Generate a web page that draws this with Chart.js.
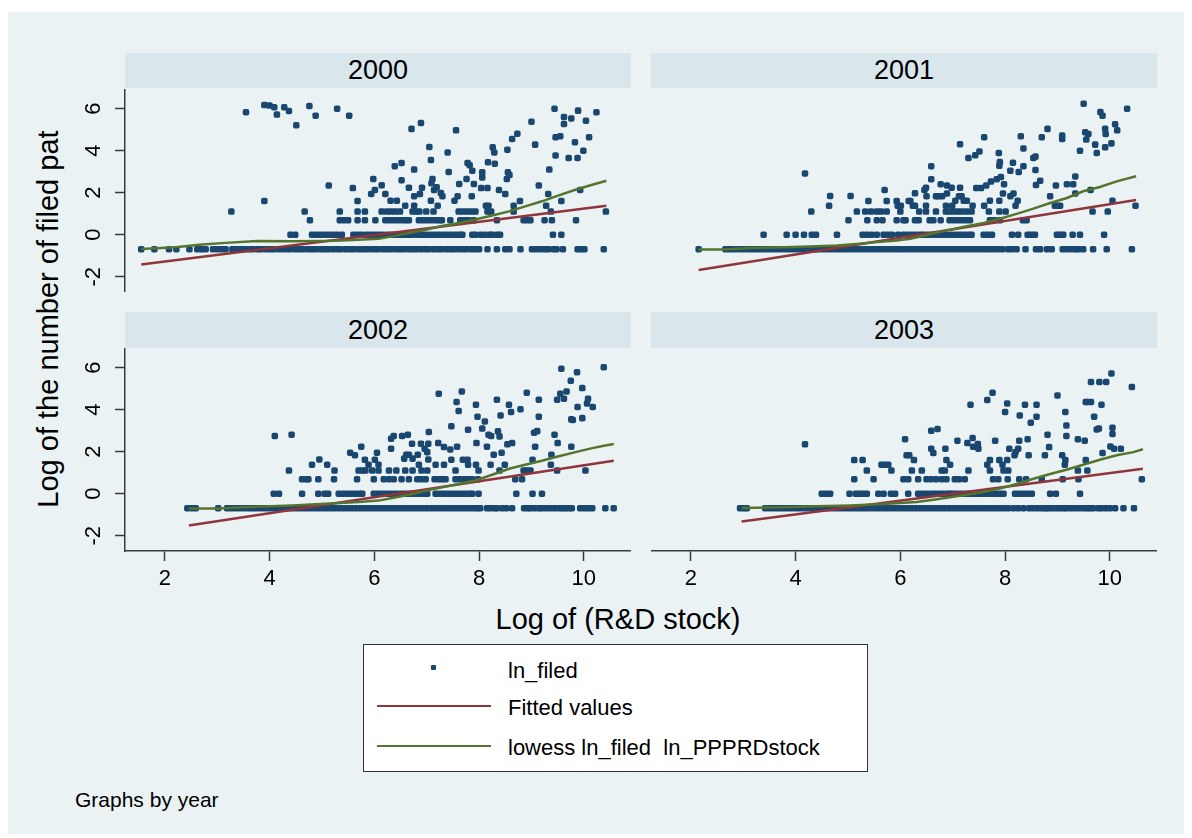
<!DOCTYPE html>
<html>
<head>
<meta charset="utf-8">
<title>ln_filed against ln_PPPRDstock, by year</title>
<script src="https://cdn.jsdelivr.net/npm/chart.js@4.4.1/dist/chart.umd.min.js"></script>
<style>
  body { margin: 0; width: 1192px; height: 838px; background: #fff; position: relative; overflow: hidden;
         font-family: "Liberation Sans", Arial, sans-serif; color: #000; }
  #bg { position: absolute; left: 8px; top: 12px; width: 1176px; height: 822px; background: #eaf2f3; }
  .strip { position: absolute; width: 506px; background: #d9e6eb; text-align: center; font-size: 27px; }
  .row1 { top: 53px; height: 35px; line-height: 35px; }
  .row2 { top: 312px; height: 36px; line-height: 36px; }
  canvas { position: absolute; }
  #ytitle { position: absolute; left: 48px; top: 319px; transform: translate(-50%, -50%) rotate(-90deg);
            font-size: 29px; white-space: nowrap; }
  #xtitle { position: absolute; left: 618px; top: 619px; transform: translate(-50%, -50%);
            font-size: 29px; white-space: nowrap; }
  #note { position: absolute; left: 75px; top: 800px; transform: translateY(-50%); font-size: 21px; }
  #legend { position: absolute; left: 363px; top: 644px; width: 505px; height: 128px; box-sizing: border-box;
            background: #fff; border: 1.5px solid #333; }
  .lg-mark { position: absolute; left: 67px; top: 20px; width: 5px; height: 5px; border-radius: 1px; background: #1a476f; }
  .lg-line { position: absolute; left: 13px; width: 114px; height: 2px; }
  .lg-text { position: absolute; left: 144px; font-size: 22px; transform: translateY(-50%); white-space: pre; }
</style>
</head>
<body>
<div id="bg"></div>

<div class="strip row1" style="left:125px">2000</div>
<div class="strip row1" style="left:651px">2001</div>
<div class="strip row2" style="left:125px">2002</div>
<div class="strip row2" style="left:651px">2003</div>

<canvas id="c2000" width="551" height="203" style="left:80px;top:89px"></canvas>
<canvas id="c2001" width="506" height="203" style="left:651px;top:89px"></canvas>
<canvas id="c2002" width="551" height="253" style="left:80px;top:348px"></canvas>
<canvas id="c2003" width="506" height="253" style="left:651px;top:348px"></canvas>

<div id="ytitle">Log of the number of filed pat</div>
<div id="xtitle">Log of (R&amp;D stock)</div>

<div id="legend">
  <div class="lg-mark"></div>
  <div class="lg-text" style="top:26px">ln_filed</div>
  <div class="lg-line" style="top:60px;background:#90353b"></div>
  <div class="lg-text" style="top:63px">Fitted values</div>
  <div class="lg-line" style="top:100px;background:#55752f"></div>
  <div class="lg-text" style="top:103px">lowess ln_filed  ln_PPPRDstock</div>
</div>

<div id="note">Graphs by year</div>

<script>
// axis setup shared by all four panels
const xTicks = [2, 4, 6, 8, 10];
const yTicks = [-2, 0, 2, 4, 6];
const xRange = [1.24, 10.9];
const yRange = [-2.73, 6.94];

// ln_filed takes a few discrete low values; firms at each level are listed by ln_PPPRDstock
const yLevels = [-0.69, 0, 0.69, 1.1];

// ---- 2000 ----
const band2000 = [1.55, 1.80, 2.08, 2.22, 2.47, 2.62, 2.70, 2.78, 2.92, 3.0, 3.08, 3.16,
  3.29, 3.37, 3.45, 3.52, 3.61, 3.68, 3.77, 3.84, 3.93, 4.01, 4.08, 4.17, 4.25, 4.33, 4.40, 4.49,
  4.57, 4.64, 4.73, 4.81, 4.88, 4.97, 5.05, 5.12, 5.21, 5.29, 5.36, 5.45, 5.53, 5.60, 5.69, 5.77,
  5.84, 5.93, 6.01, 6.08, 6.17, 6.25, 6.32, 6.41, 6.49, 6.56, 6.65, 6.73, 6.80, 6.89, 6.97, 7.04,
  7.13, 7.21, 7.28, 7.37, 7.45, 7.52, 7.61, 7.69, 7.76, 7.85, 7.93, 8.0, 8.16, 8.34, 8.50, 8.58,
  8.79, 9.01, 9.09, 9.17, 9.25, 9.32, 9.42, 9.48, 9.60, 9.88, 9.95, 10.01, 10.38];
const zero2000 = [4.40, 4.49, 4.81, 4.89, 4.97, 5.05, 5.13, 5.21, 5.29, 5.38, 5.60, 5.68, 5.76,
  5.85, 5.93, 6.01, 6.09, 6.17, 6.26, 6.34, 6.42, 6.50, 6.58, 6.66, 6.74, 6.83, 6.91, 6.99, 7.07,
  7.15, 7.23, 7.31, 7.39, 7.47, 7.55, 7.63, 7.68, 7.87, 7.93, 8.03, 8.11, 8.20, 8.25, 8.34, 8.40,
  9.41, 9.57];
const two2000 = [4.77, 5.34, 5.42, 5.50, 5.68, 5.82, 6.02, 6.21, 6.29, 6.37, 6.45, 6.53, 6.60,
  6.66, 6.85, 6.93, 7.01, 7.09, 7.17, 7.24, 7.29, 7.45, 7.64, 7.72, 7.80, 7.90, 8.34, 8.85, 8.92,
  8.98, 9.25, 9.39, 9.85];
const three2000 = [3.27, 4.67, 5.34, 5.68, 5.82, 6.14, 6.24, 6.32, 6.40, 6.49, 6.73, 6.80, 6.86,
  6.99, 7.13, 7.61, 7.69, 7.77, 7.85, 7.93, 8.16, 8.23, 8.66, 9.37, 10.42];
const upper2000 = [[3.55, 5.83], [3.90, 6.18], [4.00, 6.15], [4.09, 6.07], [4.14, 5.72], [4.28, 6.07],
  [4.37, 5.89], [4.51, 5.21], [4.76, 6.13], [4.88, 5.67], [5.29, 6.00], [5.52, 5.67], [3.90, 1.61],
  [5.13, 2.34], [5.59, 2.22], [5.68, 1.61], [5.94, 1.94], [5.98, 2.65], [6.01, 2.13], [6.14, 2.35],
  [6.21, 1.94], [6.31, 1.62], [6.39, 3.26], [6.43, 1.62], [6.52, 3.42], [6.52, 2.59], [6.59, 1.38],
  [6.66, 2.24], [6.71, 5.04], [6.76, 3.10], [6.76, 1.83], [6.76, 1.38], [6.89, 5.32], [6.87, 1.94],
  [6.91, 2.24], [7.05, 4.18], [7.08, 3.56], [7.09, 2.45], [7.11, 2.65], [7.14, 2.13], [7.19, 2.26],
  [7.21, 1.38], [7.08, 1.62], [7.27, 1.99], [7.30, 1.83], [7.40, 3.92], [7.42, 2.99], [7.53, 1.62],
  [7.56, 4.97], [7.59, 1.83], [7.62, 2.42], [7.76, 2.65], [7.78, 3.42], [7.82, 3.31], [7.87, 3.05],
  [7.86, 1.83], [7.90, 2.42], [8.04, 2.22], [8.06, 2.97], [8.06, 2.73], [8.16, 2.22], [8.13, 1.38],
  [8.18, 1.38], [8.17, 3.45], [8.26, 4.16], [8.29, 3.92], [8.30, 3.38], [8.38, 2.13], [8.50, 1.94],
  [8.53, 2.65], [8.55, 2.97], [8.58, 2.84], [8.54, 4.05], [8.63, 4.56], [8.66, 1.38], [8.73, 4.81],
  [8.78, 1.61], [9.00, 5.38], [9.07, 4.29], [9.14, 2.34], [9.28, 1.38], [9.32, 1.94], [9.34, 3.10],
  [9.44, 6.00], [9.46, 4.64], [9.46, 3.77], [9.55, 4.69], [9.57, 1.61], [9.62, 5.61], [9.62, 5.27],
  [9.71, 3.65], [9.76, 5.54], [9.83, 4.40], [9.88, 3.65], [9.89, 5.91], [9.93, 2.13], [9.99, 4.00],
  [10.04, 5.43], [10.10, 4.64], [10.24, 5.83]];
const fitX2000 = [1.55, 10.43];
const fitY2000 = [-1.42, 1.38];
const lowX2000 = [1.55, 2.20, 2.71, 3.16, 3.76, 4.43, 5.07, 5.38, 5.70, 6.08, 6.34, 6.66, 6.98, 7.29,
  7.61, 7.93, 8.25, 8.57, 8.88, 9.20, 9.52, 9.84, 10.16, 10.43];
const lowY2000 = [-0.68, -0.60, -0.47, -0.39, -0.30, -0.31, -0.30, -0.28, -0.24, -0.19, -0.08, 0.08,
  0.24, 0.41, 0.56, 0.72, 0.91, 1.11, 1.35, 1.59, 1.87, 2.14, 2.38, 2.57];

// ---- 2001 ----
const band2001 = [2.15, 2.66, 2.74, 2.82, 2.91, 2.99, 3.07, 3.15, 3.23, 3.31, 3.39, 3.47, 3.55, 3.63,
  3.71, 3.79, 3.87, 3.95, 4.03, 4.11, 4.19, 4.27, 4.35, 4.43, 4.51, 4.59, 4.67, 4.75, 4.83, 4.91,
  4.99, 5.07, 5.15, 5.23, 5.31, 5.39, 5.47, 5.55, 5.63, 5.71, 5.79, 5.87, 5.95, 6.03, 6.11, 6.19,
  6.27, 6.35, 6.43, 6.51, 6.59, 6.67, 6.75, 6.83, 6.91, 6.99, 7.07, 7.15, 7.23, 7.31, 7.39, 7.47,
  7.55, 7.63, 7.71, 7.79, 7.87, 7.95, 8.06, 8.13, 8.22, 8.39, 8.59, 8.67, 8.80, 8.89, 9.10, 9.18,
  9.26, 9.34, 9.40, 9.49, 9.68, 9.94, 10.42];
const zero2001 = [3.39, 3.83, 4.00, 4.16, 4.31, 4.39, 4.79, 5.28, 5.36, 5.45, 5.55, 5.68, 5.76, 5.84,
  5.96, 6.06, 6.14, 6.22, 6.30, 6.38, 6.44, 6.52, 6.61, 6.70, 6.79, 6.88, 6.97, 7.06, 7.14, 7.22,
  7.30, 7.36, 7.59, 7.67, 7.75, 8.13, 8.25, 8.43, 8.50, 8.57, 8.99, 9.05, 9.11, 9.29, 9.43, 9.89];
const two2001 = [5.01, 5.37, 5.55, 5.66, 5.93, 6.06, 6.10, 6.28, 6.35, 6.56, 6.63, 6.77, 6.94, 7.02,
  7.10, 7.18, 7.26, 7.33, 7.71, 7.80, 7.90, 8.34, 8.41];
const three2001 = [4.30, 5.17, 5.33, 5.44, 5.55, 5.63, 5.74, 6.00, 6.36, 6.49, 6.68, 6.87, 6.94, 7.02,
  7.10, 7.18, 7.27, 7.36, 7.69, 7.89, 8.01, 9.67, 9.96];
const upper2001 = [[4.18, 2.92], [4.66, 1.84], [4.64, 1.38], [5.05, 1.84], [5.39, 1.61], [5.70, 2.13],
  [5.74, 1.61], [5.93, 1.61], [5.95, 1.38], [6.01, 1.38], [6.16, 1.61], [6.19, 1.61], [6.24, 1.38],
  [6.28, 1.38], [6.28, 1.97], [6.46, 2.13], [6.49, 2.24], [6.50, 1.83], [6.49, 1.38], [6.59, 3.26],
  [6.59, 2.64], [6.68, 1.83], [6.73, 1.83], [6.77, 2.40], [6.80, 1.83], [6.87, 1.38], [6.89, 2.34],
  [6.89, 1.96], [6.98, 2.24], [6.99, 1.38], [7.05, 1.62], [7.14, 2.24], [7.14, 4.31], [7.12, 1.83],
  [7.17, 1.83], [7.21, 1.62], [7.27, 1.62], [7.30, 3.65], [7.38, 1.38], [7.43, 3.78], [7.51, 3.96],
  [7.45, 2.22], [7.54, 2.22], [7.60, 4.64], [7.60, 1.38], [7.64, 2.34], [7.71, 1.62], [7.73, 2.53],
  [7.84, 2.64], [7.88, 3.89], [7.89, 3.29], [7.90, 3.46], [7.89, 1.62], [7.92, 2.75], [7.96, 1.96],
  [7.98, 2.40], [8.10, 3.05], [8.10, 1.83], [8.15, 3.43], [8.16, 1.96], [8.20, 1.38], [8.24, 1.62],
  [8.26, 2.99], [8.30, 4.69], [8.35, 4.11], [8.35, 3.26], [8.54, 3.65], [8.58, 3.72], [8.58, 3.08],
  [8.59, 2.37], [8.67, 2.57], [8.70, 4.64], [8.81, 5.04], [8.86, 1.83], [8.97, 2.34], [8.99, 1.38],
  [8.95, 1.38], [9.05, 1.38], [9.09, 4.72], [9.09, 4.56], [9.18, 2.40], [9.30, 2.40], [9.34, 2.77],
  [9.34, 1.96], [9.43, 4.00], [9.50, 6.24], [9.53, 4.88], [9.55, 4.53], [9.59, 4.80], [9.63, 2.13],
  [9.72, 4.29], [9.75, 3.89], [9.82, 5.84], [9.86, 5.67], [9.91, 4.16], [9.91, 5.04], [9.92, 4.80],
  [10.03, 4.35], [10.05, 1.62], [10.10, 5.26], [10.14, 4.97], [10.33, 6.00], [10.49, 1.38]];
const fitX2001 = [2.15, 10.50];
const fitY2001 = [-1.68, 1.65];
const lowX2001 = [2.15, 2.62, 3.13, 3.77, 4.41, 4.79, 5.17, 5.55, 5.93, 6.19, 6.44, 6.70, 6.95, 7.27,
  7.59, 7.90, 8.22, 8.54, 8.86, 9.18, 9.49, 9.81, 10.13, 10.50];
const lowY2001 = [-0.70, -0.70, -0.63, -0.60, -0.55, -0.51, -0.44, -0.35, -0.28, -0.19, -0.05, 0.10,
  0.24, 0.40, 0.56, 0.76, 0.99, 1.24, 1.51, 1.75, 2.07, 2.27, 2.54, 2.78];

// ---- 2002 ----
const band2002 = [2.43, 2.51, 2.59, 3.02, 3.19, 3.27, 3.35, 3.43, 3.51, 3.59, 3.66, 3.73, 3.81, 3.89,
  3.97, 4.05, 4.13, 4.21, 4.29, 4.37, 4.45, 4.53, 4.61, 4.69, 4.77, 4.85, 4.93, 5.01, 5.09, 5.17,
  5.25, 5.33, 5.41, 5.49, 5.57, 5.65, 5.73, 5.81, 5.89, 5.97, 6.05, 6.13, 6.21, 6.29, 6.37, 6.45,
  6.53, 6.61, 6.69, 6.77, 6.85, 6.93, 7.01, 7.09, 7.17, 7.25, 7.33, 7.41, 7.49, 7.57, 7.65, 7.73,
  7.81, 7.89, 7.96, 8.02, 8.15, 8.22, 8.30, 8.34, 8.44, 8.52, 8.63, 8.86, 8.93, 8.98, 9.06, 9.14,
  9.20, 9.28, 9.36, 9.44, 9.52, 9.59, 9.65, 9.71, 9.77, 9.93, 10.01, 10.09, 10.16, 10.41, 10.57];
const zero2002 = [4.08, 4.18, 4.62, 4.93, 5.05, 5.12, 5.32, 5.40, 5.48, 5.56, 5.64, 5.72, 5.77, 5.99,
  6.07, 6.15, 6.23, 6.31, 6.39, 6.47, 6.55, 6.63, 6.71, 6.79, 6.87, 6.95, 7.01, 7.17, 7.25, 7.33,
  7.41, 7.49, 7.57, 7.65, 7.73, 7.81, 7.87, 7.99, 8.71, 9.02, 9.20];
const two2002 = [4.62, 4.70, 4.74, 4.93, 5.23, 5.67, 5.99, 6.18, 6.28, 6.37, 6.52, 6.66, 6.82, 6.90,
  6.98, 7.15, 7.23, 7.30, 7.36, 7.55, 7.63, 7.71, 7.79, 7.87, 7.98, 8.69, 8.82];
const three2002 = [4.37, 5.24, 5.70, 5.77, 5.83, 5.96, 6.08, 6.28, 6.42, 6.59, 6.73, 6.90, 7.01, 7.55,
  7.99, 8.39, 8.85, 8.92, 8.98, 9.49, 10.03];
const upper2002 = [[4.10, 2.75], [4.42, 2.81], [4.81, 1.38], [4.95, 1.63], [5.10, 1.38], [5.54, 1.95],
  [5.63, 1.83], [5.75, 2.24], [5.82, 1.62], [5.89, 1.38], [6.01, 1.62], [6.05, 1.95], [6.08, 1.38],
  [6.32, 2.62], [6.32, 2.14], [6.37, 2.75], [6.53, 2.75], [6.64, 2.81], [6.57, 1.67], [6.61, 1.86],
  [6.66, 1.86], [6.72, 2.38], [6.73, 1.67], [6.83, 1.86], [6.85, 1.38], [6.89, 2.38], [6.96, 2.14],
  [7.04, 2.94], [7.03, 2.38], [7.01, 1.98], [7.03, 1.63], [7.17, 1.38], [7.22, 2.41], [7.33, 2.22],
  [7.33, 1.38], [7.45, 2.11], [7.47, 3.21], [7.47, 1.62], [7.58, 2.24], [7.23, 4.76], [7.57, 4.37],
  [7.61, 3.94], [7.67, 4.87], [7.69, 1.62], [7.79, 3.05], [7.79, 1.38], [7.78, 1.62], [7.94, 4.24],
  [7.97, 3.67], [7.95, 2.41], [7.94, 1.38], [8.06, 3.10], [8.11, 3.44], [8.15, 2.24], [8.18, 2.81],
  [8.23, 2.75], [8.28, 1.86], [8.22, 1.38], [8.34, 4.48], [8.36, 2.97], [8.39, 2.73], [8.41, 3.73],
  [8.43, 1.95], [8.49, 1.38], [8.54, 2.35], [8.57, 4.24], [8.61, 3.89], [8.63, 2.41], [8.79, 4.02],
  [8.91, 4.81], [9.02, 1.62], [9.05, 2.90], [9.07, 2.24], [9.11, 2.98], [9.14, 3.67], [9.14, 4.48],
  [9.37, 1.38], [9.38, 1.86], [9.44, 2.81], [9.50, 2.41], [9.49, 4.48], [9.55, 4.76], [9.57, 5.95],
  [9.62, 4.52], [9.67, 4.87], [9.75, 5.38], [9.76, 2.24], [9.76, 3.54], [9.79, 3.51], [9.87, 5.79],
  [9.88, 4.13], [9.97, 5.03], [9.97, 3.60], [10.06, 4.30], [10.08, 4.52], [10.17, 4.13], [10.38, 6.02]];
const fitX2002 = [2.46, 10.57];
const fitY2002 = [-1.52, 1.57];
const lowX2002 = [2.46, 3.03, 3.73, 4.43, 5.07, 5.70, 6.08, 6.34, 6.66, 6.98, 7.29, 7.61, 7.93, 8.25,
  8.57, 8.88, 9.20, 9.52, 9.84, 10.16, 10.41, 10.57];
const lowY2002 = [-0.71, -0.70, -0.62, -0.56, -0.48, -0.40, -0.33, -0.21, -0.05, 0.14, 0.30, 0.46,
  0.63, 0.90, 1.19, 1.38, 1.57, 1.78, 1.98, 2.17, 2.30, 2.37];

// ---- 2003 ----
const band2003 = [2.94, 3.01, 3.07, 3.42, 3.50, 3.58, 3.66, 3.74, 3.82, 3.90, 3.98, 4.06, 4.14, 4.22,
  4.30, 4.38, 4.46, 4.54, 4.62, 4.70, 4.78, 4.86, 4.94, 5.02, 5.10, 5.18, 5.26, 5.34, 5.42, 5.50,
  5.58, 5.66, 5.74, 5.82, 5.90, 5.98, 6.06, 6.14, 6.22, 6.30, 6.38, 6.46, 6.54, 6.62, 6.70, 6.78,
  6.86, 6.94, 7.02, 7.10, 7.18, 7.26, 7.34, 7.42, 7.50, 7.58, 7.66, 7.74, 7.82, 7.90, 7.98, 8.06,
  8.16, 8.25, 8.35, 8.46, 8.54, 8.62, 8.70, 8.77, 8.82, 8.89, 8.97, 9.04, 9.11, 9.17, 9.25, 9.33,
  9.41, 9.49, 9.56, 9.62, 9.68, 9.78, 9.84, 9.92, 10.00, 10.10, 10.26, 10.46];
const zero2003 = [4.50, 4.58, 4.66, 5.03, 5.15, 5.22, 5.29, 5.36, 5.58, 5.68, 5.82, 5.90, 6.15, 6.34,
  6.42, 6.50, 6.58, 6.66, 6.74, 6.82, 6.90, 6.95, 7.01, 7.09, 7.17, 7.25, 7.33, 7.41, 7.49, 7.52,
  7.58, 7.66, 7.74, 7.82, 7.90, 7.97, 8.19, 8.27, 8.35, 8.43, 8.51, 8.86, 8.97, 9.43];
const two2003 = [5.12, 5.49, 6.06, 6.15, 6.34, 6.50, 6.58, 6.68, 6.79, 6.88, 7.04, 7.12, 7.23, 7.77,
  7.87, 8.05, 8.27, 8.40, 8.70, 9.10, 9.40, 10.61];
const three2003 = [5.36, 5.83, 6.22, 6.41, 6.79, 6.85, 7.30, 7.71, 7.97, 8.06, 9.39, 9.57];
const upper2003 = [[4.18, 2.35], [5.12, 1.60], [5.28, 1.60], [5.64, 1.38], [5.71, 1.38], [5.77, 1.38],
  [6.09, 2.59], [6.12, 1.83], [6.17, 1.83], [6.26, 1.60], [6.59, 3.00], [6.71, 3.08], [6.59, 2.14],
  [6.63, 1.94], [6.86, 2.14], [6.88, 1.60], [6.95, 1.38], [7.09, 2.52], [7.28, 2.41], [7.34, 4.24],
  [7.38, 2.65], [7.39, 2.24], [7.48, 2.37], [7.49, 2.14], [7.66, 4.46], [7.76, 4.81], [7.66, 1.38],
  [7.71, 1.60], [7.81, 2.52], [7.89, 1.60], [7.95, 1.38], [8.00, 3.89], [8.04, 4.30], [8.08, 2.14],
  [8.04, 1.60], [8.18, 1.83], [8.20, 1.98], [8.25, 2.14], [8.27, 2.52], [8.28, 3.73], [8.38, 4.24],
  [8.43, 2.59], [8.45, 1.83], [8.49, 3.38], [8.60, 4.24], [8.60, 3.67], [8.76, 1.83], [8.81, 2.81],
  [8.84, 2.22], [9.00, 4.68], [9.09, 1.83], [9.15, 3.89], [9.17, 3.25], [9.17, 2.75], [9.14, 1.38],
  [9.39, 2.59], [9.52, 2.52], [9.54, 4.37], [9.58, 4.37], [9.64, 4.37], [9.70, 3.67], [9.64, 5.32],
  [9.80, 5.32], [9.84, 4.24], [9.75, 3.06], [9.79, 3.10], [9.86, 1.94], [9.93, 5.32], [10.03, 5.73],
  [10.05, 3.14], [10.05, 2.84], [10.01, 2.25], [10.08, 2.14], [10.21, 2.14], [10.42, 5.08],
  [9.54, 1.60], [9.15, 1.60]];
const fitX2003 = [2.97, 10.63];
const fitY2003 = [-1.33, 1.19];
const lowX2003 = [2.97, 3.77, 4.40, 5.04, 5.68, 6.31, 6.63, 6.95, 7.27, 7.59, 7.90, 8.22, 8.54, 8.86,
  9.17, 9.49, 9.81, 10.13, 10.45, 10.63];
const lowY2003 = [-0.68, -0.65, -0.60, -0.56, -0.49, -0.40, -0.29, -0.17, -0.05, 0.08, 0.24, 0.46,
  0.71, 0.94, 1.14, 1.38, 1.62, 1.83, 1.98, 2.12];

const family = '"Liberation Sans", Arial, sans-serif';
const markerColor = '#1a476f';
const fitColor = '#90353b';
const lowessColor = '#55752f';
const axisColor = '#3a3a3a';

function xy(xs, ys) {
  return xs.map((x, i) => ({ x: x, y: ys[i] }));
}

// fixed axis sizes so every panel's plot area lines up; no label overflow padding
function sizeAxis(size, shown) {
  return s => {
    if (s.isHorizontal()) s.height = shown ? size : 0;
    else s.width = shown ? size : 0;
    s.paddingTop = 0;
    s.paddingBottom = 0;
    s.paddingLeft = 0;
    s.paddingRight = 0;
  };
}

function drawPanel(id, levels, upper, fitX, fitY, lowX, lowY, showX, showY) {
  let pts = [];
  levels.forEach((xs, i) => {
    pts = pts.concat(xs.map(x => ({ x: x, y: yLevels[i] })));
  });
  pts = pts.concat(upper.map(p => ({ x: p[0], y: p[1] })));

  const axisGrid = { drawOnChartArea: false, color: axisColor, tickLength: 10, tickWidth: 1.5 };
  const axisBorder = { color: axisColor, width: 1.5 };

  new Chart(document.getElementById(id), {
    type: 'scatter',
    data: {
      datasets: [
        {
          label: 'ln_filed',
          data: pts,
          backgroundColor: markerColor,
          borderWidth: 0,
          pointStyle: 'rectRounded',
          pointRadius: 3.8,
          order: 3,
        },
        {
          label: 'Fitted values',
          data: xy(fitX, fitY),
          showLine: true,
          borderColor: fitColor,
          borderWidth: 2.5,
          pointRadius: 0,
          order: 2,
        },
        {
          label: 'lowess ln_filed  ln_PPPRDstock',
          data: xy(lowX, lowY),
          showLine: true,
          borderColor: lowessColor,
          borderWidth: 2.5,
          pointRadius: 0,
          order: 1,
        },
      ],
    },
    options: {
      responsive: false,
      animation: false,
      events: [],
      layout: { padding: 0, autoPadding: false },
      plugins: {
        legend: { display: false },
        tooltip: { enabled: false },
      },
      scales: {
        x: {
          type: 'linear',
          display: showX,
          min: xRange[0],
          max: xRange[1],
          afterBuildTicks: s => { s.ticks = xTicks.map(v => ({ value: v })); },
          afterFit: sizeAxis(50, showX),
          grid: axisGrid,
          border: axisBorder,
          ticks: { color: '#000', font: { family: family, size: 22 }, padding: 5, maxRotation: 0 },
        },
        y: {
          type: 'linear',
          display: showY,
          min: yRange[0],
          max: yRange[1],
          afterBuildTicks: s => { s.ticks = yTicks.map(v => ({ value: v })); },
          afterFit: sizeAxis(45, showY),
          grid: axisGrid,
          border: axisBorder,
          ticks: {
            color: '#000',
            font: { family: family, size: 22 },
            padding: 11,
            minRotation: 90,
            maxRotation: 90,
            crossAlign: 'center',
          },
        },
      },
    },
  });
}

drawPanel('c2000', [band2000, zero2000, two2000, three2000], upper2000,
  fitX2000, fitY2000, lowX2000, lowY2000, false, true);
drawPanel('c2001', [band2001, zero2001, two2001, three2001], upper2001,
  fitX2001, fitY2001, lowX2001, lowY2001, false, false);
drawPanel('c2002', [band2002, zero2002, two2002, three2002], upper2002,
  fitX2002, fitY2002, lowX2002, lowY2002, true, true);
drawPanel('c2003', [band2003, zero2003, two2003, three2003], upper2003,
  fitX2003, fitY2003, lowX2003, lowY2003, true, false);
</script>
</body>
</html>
